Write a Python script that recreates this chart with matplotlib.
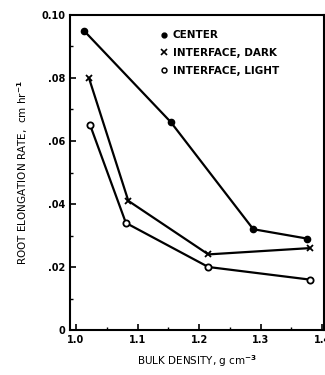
import matplotlib
matplotlib.use("Agg")
import matplotlib.pyplot as plt
from matplotlib.lines import Line2D
from matplotlib.ticker import MultipleLocator

# values
center_x = [1.013, 1.154, 1.288, 1.376]
center_y = [0.095, 0.066, 0.032, 0.029]
dark_x = [1.021, 1.085, 1.215, 1.380]
dark_y = [0.080, 0.041, 0.024, 0.026]
light_x = [1.023, 1.081, 1.215, 1.380]
light_y = [0.065, 0.034, 0.020, 0.016]

xticks = [1.0, 1.1, 1.2, 1.3, 1.4]
xticklabels = ["1.0", "1.1", "1.2", "1.3", "1.4"]
yticks = [0, 0.02, 0.04, 0.06, 0.08, 0.10]
yticklabels = ["0", ".02", ".04", ".06", ".08", "0.10"]
labels = ["CENTER", "INTERFACE, DARK", "INTERFACE, LIGHT"]

plt.rcParams["font.family"] = "DejaVu Sans"
plt.rcParams["font.weight"] = "bold"

fig = plt.figure(figsize=(3.25, 3.75), dpi=100)
ax = fig.add_axes([0.215, 0.12, 0.782, 0.84])

ax.plot(center_x, center_y, "-o", color="black", lw=1.6, ms=4.5)
ax.plot(dark_x, dark_y, "-x", color="black", lw=1.6, ms=5, mew=1.3)
ax.plot(light_x, light_y, "-o", color="black", lw=1.6, ms=4.5,
        mfc="white", mew=1.3)

ax.set_xlim(0.99, 1.403)
ax.set_ylim(0, 0.10)
ax.set_xticks(xticks)
ax.set_xticklabels(xticklabels)
ax.set_yticks(yticks)
ax.set_yticklabels(yticklabels)
ax.yaxis.set_minor_locator(MultipleLocator(0.01))
ax.xaxis.set_minor_locator(MultipleLocator(0.05))
ax.tick_params(direction="in", labelsize=7, length=4, width=1.2)
ax.tick_params(which="minor", direction="in", length=2.5, width=1.0)
for s in ax.spines.values():
    s.set_linewidth(1.5)

ax.set_xlabel("BULK DENSITY, g cm$^{-3}$", fontsize=7.5, labelpad=6)
ax.set_ylabel("ROOT ELONGATION RATE,  cm hr$^{-1}$", fontsize=7.5,
              labelpad=8)

# marker-only legend handles
handles = [
    Line2D([], [], ls="none", marker="o", color="black", ms=3.5),
    Line2D([], [], ls="none", marker="x", color="black", ms=4, mew=1.2),
    Line2D([], [], ls="none", marker="o", color="black", ms=3.5,
           mfc="white", mew=1.1),
]
ax.legend(handles, labels, loc="upper left", frameon=False, fontsize=7.5,
          handlelength=0.6, handletextpad=0.6, labelspacing=0.75,
          borderaxespad=0, bbox_to_anchor=(0.34, 0.965))

fig.savefig("out.png", dpi=100)
